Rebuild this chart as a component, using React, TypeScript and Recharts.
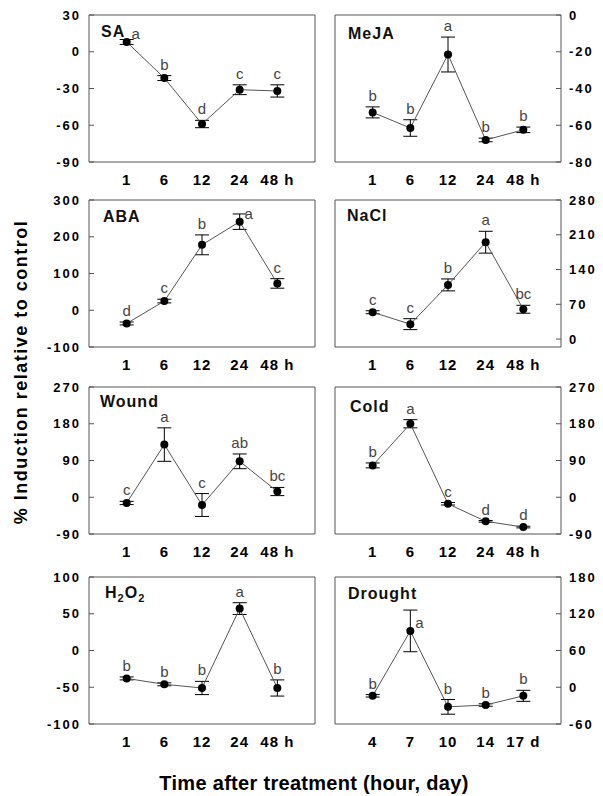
import React from 'react';
import { LineChart, Line, XAxis, YAxis, ErrorBar, ReferenceArea, LabelList } from 'recharts';

const FONT = '"Liberation Sans", Arial, Helvetica, sans-serif';

const hourTicks = ['1', '6', '12', '24', '48 h'];
const dayTicks = ['4', '7', '10', '14', '17 d'];

const saMean = [8, -21.5, -59, -31, -32];
const saErr = [2, 2, 3, 4, 5];
const saLetters = ['a', 'b', 'd', 'c', 'c'];

const mejaMean = [-53, -61.5, -21.5, -68, -62.5];
const mejaErr = [3, 4.5, 9.5, 1, 1.5];
const mejaLetters = ['b', 'b', 'a', 'b', 'b'];

const abaMean = [-36, 25, 178, 241, 73];
const abaErr = [4, 5, 27, 21, 13];
const abaLetters = ['d', 'c', 'b', 'a', 'c'];

const naclMean = [54, 30, 109, 195, 60];
const naclErr = [3, 11, 12, 22, 8];
const naclLetters = ['c', 'c', 'b', 'a', 'bc'];

const woundMean = [-14, 129, -19, 88, 14];
const woundErr = [4, 41, 28, 18, 10];
const woundLetters = ['c', 'a', 'c', 'ab', 'bc'];

const coldMean = [78, 180, -16, -59, -73];
const coldErr = [6, 10, 3, 2, 2];
const coldLetters = ['b', 'a', 'c', 'd', 'd'];

const h2o2Mean = [-38, -46, -51, 57, -51];
const h2o2Err = [2, 2, 9, 8, 11];
const h2o2Letters = ['b', 'b', 'b', 'a', 'b'];

const droughtMean = [-14, 92, -32, -29, -14];
const droughtErr = [2, 34, 12, 2, 9];
const droughtLetters = ['b', 'a', 'b', 'b', 'b'];

const saTicks = [-90, -60, -30, 0, 30];
const mejaTicks = [-80, -60, -40, -20, 0];
const abaTicks = [-100, 0, 100, 200, 300];
const naclTicks = [0, 70, 140, 210, 280];
const woundTicks = [-90, 0, 90, 180, 270];
const coldTicks = [-90, 0, 90, 180, 270];
const h2o2Ticks = [-100, -50, 0, 50, 100];
const droughtTicks = [-60, 0, 60, 120, 180];

type Box = { x: number; y: number; w: number; h: number };
type PanelDef = {
  id: string;
  title: React.ReactNode;
  mean: number[];
  err: number[];
  letters: string[];
  rightLetters: number[];
  yTicks: number[];
  domain: [number, number];
  xLabels: string[];
  side: 'left' | 'right';
  box: Box;
  titleOff: [number, number];
};

const W = 226;
const H = 147;

const panels: PanelDef[] = [
  { id: 'sa', title: 'SA', mean: saMean, err: saErr, letters: saLetters, rightLetters: [0], yTicks: saTicks, domain: [-90, 30], xLabels: hourTicks, side: 'left', box: { x: 89, y: 15, w: W, h: H }, titleOff: [12, 22] },
  { id: 'meja', title: 'MeJA', mean: mejaMean, err: mejaErr, letters: mejaLetters, rightLetters: [], yTicks: mejaTicks, domain: [-80, 0], xLabels: hourTicks, side: 'right', box: { x: 335, y: 15, w: W, h: H }, titleOff: [13, 24] },
  { id: 'aba', title: 'ABA', mean: abaMean, err: abaErr, letters: abaLetters, rightLetters: [3], yTicks: abaTicks, domain: [-100, 300], xLabels: hourTicks, side: 'left', box: { x: 89, y: 200, w: W, h: H }, titleOff: [14, 22] },
  { id: 'nacl', title: 'NaCl', mean: naclMean, err: naclErr, letters: naclLetters, rightLetters: [], yTicks: naclTicks, domain: [-16, 280], xLabels: hourTicks, side: 'right', box: { x: 335, y: 200, w: W, h: H }, titleOff: [12, 21] },
  { id: 'wound', title: 'Wound', mean: woundMean, err: woundErr, letters: woundLetters, rightLetters: [], yTicks: woundTicks, domain: [-90, 270], xLabels: hourTicks, side: 'left', box: { x: 89, y: 387, w: W, h: H }, titleOff: [11, 20] },
  { id: 'cold', title: 'Cold', mean: coldMean, err: coldErr, letters: coldLetters, rightLetters: [], yTicks: coldTicks, domain: [-90, 270], xLabels: hourTicks, side: 'right', box: { x: 335, y: 387, w: W, h: H }, titleOff: [15, 25] },
  {
    id: 'h2o2',
    title: (
      <>
        H<tspan fontSize={11} dy={4}>2</tspan>
        <tspan dy={-4}>O</tspan>
        <tspan fontSize={11} dy={4}>2</tspan>
      </>
    ),
    mean: h2o2Mean, err: h2o2Err, letters: h2o2Letters, rightLetters: [], yTicks: h2o2Ticks, domain: [-100, 100], xLabels: hourTicks, side: 'left', box: { x: 89, y: 577, w: W, h: H }, titleOff: [16, 21],
  },
  { id: 'drought', title: 'Drought', mean: droughtMean, err: droughtErr, letters: droughtLetters, rightLetters: [1], yTicks: droughtTicks, domain: [-60, 180], xLabels: dayTicks, side: 'right', box: { x: 335, y: 577, w: W, h: H }, titleOff: [13, 22] },
];

const LINE = '#555';
const LETTER = '#444';

function makeYTick(side: 'left' | 'right') {
  return (props: any) => {
    const { x, y, payload } = props;
    const isLeft = side === 'left';
    return (
      <g>
        <line x1={x} x2={isLeft ? x + 5 : x - 5} y1={y} y2={y} stroke={LINE} strokeWidth={1} />
        <text
          x={isLeft ? x - 8 : x + 8}
          y={y}
          dy="0.36em"
          textAnchor={isLeft ? 'end' : 'start'}
          fontFamily={FONT}
          fontWeight="bold"
          fontSize={13}
          letterSpacing={2}
          fill="#000"
        >
          {payload.value}
        </text>
      </g>
    );
  };
}

function makeXTick(labels: string[]) {
  return (props: any) => {
    const { x, y, payload } = props;
    const label = labels[Math.round(payload.value) - 1] ?? '';
    return (
      <text x={x} y={y + 23} textAnchor="middle" fontFamily={FONT} fontWeight="bold" fontSize={15} letterSpacing={1} fill="#000">
        {label}
      </text>
    );
  };
}

const TopLetter = (props: any) => {
  const { x, y, value } = props;
  if (!value) return null;
  return (
    <text x={x} y={y - 6} textAnchor="middle" fontFamily={FONT} fontSize={15} fill={LETTER}>
      {value}
    </text>
  );
};

const RightLetter = (props: any) => {
  const { x, y, value } = props;
  if (!value) return null;
  return (
    <text x={x + 9} y={y - 3} textAnchor="middle" fontFamily={FONT} fontSize={15} fill={LETTER}>
      {value}
    </text>
  );
};

function Panel({ p }: { p: PanelDef }) {
  const data = p.mean.map((m, i) => ({
    idx: i + 1,
    mean: m,
    err: p.err[i],
    top: m + p.err[i],
    topLetter: p.rightLetters.includes(i) ? '' : p.letters[i],
    rightLetter: p.rightLetters.includes(i) ? p.letters[i] : '',
  }));
  const isLeft = p.side === 'left';
  const yW = 50;
  const mt = 10;
  const xH = 30;
  const chartW = isLeft ? yW + p.box.w + 10 : 10 + p.box.w + yW;
  const chartH = mt + p.box.h + xH;
  const left = isLeft ? p.box.x - yW : p.box.x - 10;
  const top = p.box.y - mt;
  return (
    <div style={{ position: 'absolute', left, top, width: chartW, height: chartH }}>
      <LineChart
        width={chartW}
        height={chartH}
        data={data}
        margin={isLeft ? { top: mt, right: 10, bottom: 0, left: 0 } : { top: mt, right: 0, bottom: 0, left: 10 }}
      >
        <XAxis
          dataKey="idx"
          type="number"
          domain={[0, 6]}
          ticks={[1, 2, 3, 4, 5]}
          interval={0}
          allowDataOverflow
          axisLine={false}
          tickLine={false}
          tickSize={0}
          tickMargin={0}
          height={xH}
          tick={makeXTick(p.xLabels)}
        />
        <YAxis
          type="number"
          orientation={p.side}
          domain={p.domain}
          ticks={p.yTicks}
          interval={0}
          allowDataOverflow
          axisLine={false}
          tickLine={false}
          tickSize={0}
          tickMargin={0}
          width={yW}
          tick={makeYTick(p.side)}
        />
        <ReferenceArea x1={0} x2={6} y1={p.domain[0]} y2={p.domain[1]} stroke={LINE} strokeWidth={1} fill="none" fillOpacity={0} />
        <Line
          dataKey="top"
          stroke="none"
          dot={false}
          activeDot={false}
          isAnimationActive={false}
          legendType="none"
        >
          <LabelList dataKey="topLetter" content={TopLetter} />
        </Line>
        <Line
          dataKey="mean"
          stroke={LINE}
          strokeWidth={1}
          dot={{ r: 4, fill: '#000', stroke: '#000', strokeWidth: 0 }}
          activeDot={false}
          isAnimationActive={false}
        >
          <ErrorBar dataKey="err" width={7} stroke="#000" strokeWidth={1} direction="y" />
          <LabelList dataKey="rightLetter" content={RightLetter} />
        </Line>
      </LineChart>
    </div>
  );
}

export default function App() {
  return (
    <div style={{ position: 'absolute', left: 0, top: 0, width: 603, height: 796, background: '#fff' }}>
      {panels.map((p) => (
        <Panel key={p.id} p={p} />
      ))}
      <svg width={603} height={796} style={{ position: 'absolute', left: 0, top: 0, pointerEvents: 'none' }}>
        {panels.map((p) => (
          <text
            key={p.id}
            x={p.box.x + p.titleOff[0]}
            y={p.box.y + p.titleOff[1]}
            fontFamily={FONT}
            fontWeight="bold"
            fontSize={16}
            letterSpacing={1}
            fill="#111"
          >
            {p.title}
          </text>
        ))}
        <text
          transform="translate(27,372) rotate(-90)"
          textAnchor="middle"
          fontFamily={FONT}
          fontWeight="bold"
          fontSize={18}
          letterSpacing={1.5}
          fill="#000"
        >
          % Induction relative to control
        </text>
        <text x={314} y={790} textAnchor="middle" fontFamily={FONT} fontWeight="bold" fontSize={20} letterSpacing={0.3} fill="#000">
          Time after treatment (hour, day)
        </text>
      </svg>
    </div>
  );
}
